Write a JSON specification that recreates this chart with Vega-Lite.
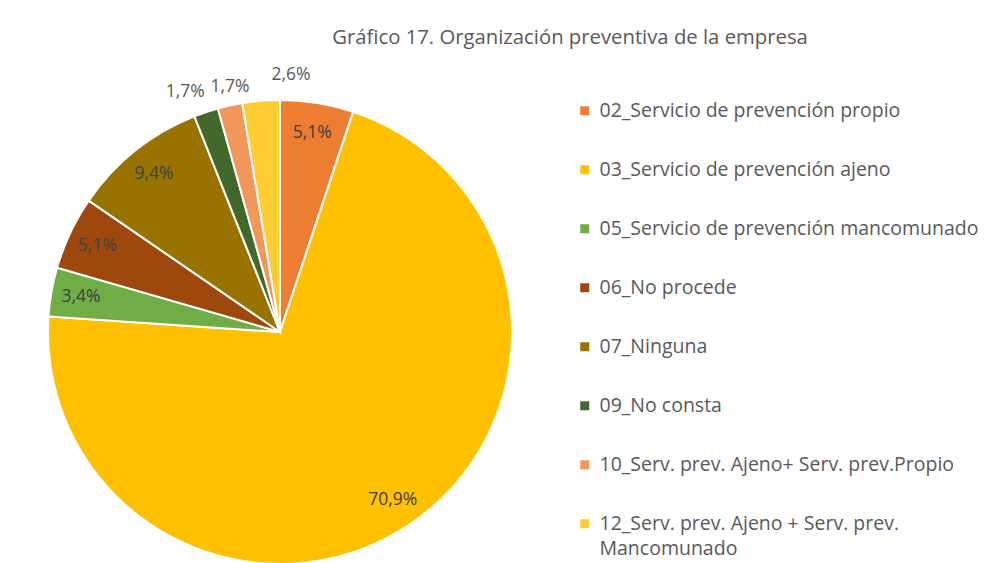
{
  "$schema": "https://vega.github.io/schema/vega-lite/v6.json",
  "width": 464,
  "height": 464,
  "autosize": "none",
  "padding": {"left": 48, "top": 100, "right": 475, "bottom": 0},
  "background": "white",
  "title": {
    "text": "Gráfico 17. Organización preventiva de la empresa",
    "font": "Open Sans",
    "fontSize": 20.3,
    "fontWeight": "normal",
    "color": "#595959",
    "anchor": "middle",
    "dx": 290,
    "offset": 18
  },
  "data": {
    "values": [
      {"cat": "02_Servicio de prevención propio", "v": 0.051},
      {"cat": "03_Servicio de prevención ajeno", "v": 0.709},
      {"cat": "05_Servicio de prevención mancomunado", "v": 0.034},
      {"cat": "06_No procede", "v": 0.051},
      {"cat": "07_Ninguna", "v": 0.094},
      {"cat": "09_No consta", "v": 0.017},
      {"cat": "10_Serv. prev. Ajeno+ Serv. prev.Propio", "v": 0.0171},
      {"cat": "12_Serv. prev. Ajeno + Serv. prev. Mancomunado", "v": 0.026}
    ]
  },
  "encoding": {
    "theta": {"field": "v", "type": "quantitative", "stack": true},
    "order": {"field": "cat", "type": "nominal", "sort": "ascending"}
  },
  "layer": [
    {
      "mark": {"type": "arc", "outerRadius": 232, "stroke": "white", "strokeWidth": 2},
      "encoding": {
        "color": {
          "field": "cat",
          "type": "nominal",
          "scale": {
            "domain": [
              "02_Servicio de prevención propio",
              "03_Servicio de prevención ajeno",
              "05_Servicio de prevención mancomunado",
              "06_No procede",
              "07_Ninguna",
              "09_No consta",
              "10_Serv. prev. Ajeno+ Serv. prev.Propio",
              "12_Serv. prev. Ajeno + Serv. prev. Mancomunado"
            ],
            "range": ["#ED7D31", "#FFC000", "#70AD47", "#9E480E", "#997300", "#43682B", "#F1975A", "#FFCD33"]
          },
          "legend": {
            "title": null,
            "orient": "none",
            "legendX": 527,
            "legendY": 1,
            "symbolType": "square",
            "symbolSize": 81,
            "symbolStrokeWidth": 0,
            "labelFont": "Open Sans",
            "labelFontSize": 19.5,
            "labelColor": "#595959",
            "labelOffset": 5,
            "labelLimit": 440,
            "rowPadding": 38,
            "labelExpr": "indexof(datum.label, '12_') == 0 ? ['12_Serv. prev. Ajeno + Serv. prev.', 'Mancomunado'] : datum.label"
          }
        }
      }
    },
    {
      "mark": {"type": "text", "radius": 202, "font": "Open Sans", "fontSize": 17.5, "color": "#404040"},
      "encoding": {
        "detail": {"field": "cat"},
        "text": {
          "condition": {"test": "datum.v >= 0.03", "field": "v", "type": "quantitative", "format": ".1%"},
          "value": ""
        }
      }
    },
    {
      "mark": {"type": "text", "radius": 253, "dx": -14, "font": "Open Sans", "fontSize": 17.5, "color": "#595959"},
      "encoding": {
        "detail": {"field": "cat"},
        "text": {
          "condition": {"test": "datum.cat == '09_No consta'", "field": "v", "type": "quantitative", "format": ".1%"},
          "value": ""
        }
      }
    },
    {
      "mark": {"type": "text", "radius": 251, "dx": 4, "font": "Open Sans", "fontSize": 17.5, "color": "#595959"},
      "encoding": {
        "detail": {"field": "cat"},
        "text": {
          "condition": {"test": "indexof(datum.cat, '10_') == 0", "field": "v", "type": "quantitative", "format": ".1%"},
          "value": ""
        }
      }
    },
    {
      "mark": {"type": "text", "radius": 258, "dx": 32, "font": "Open Sans", "fontSize": 17.5, "color": "#595959"},
      "encoding": {
        "detail": {"field": "cat"},
        "text": {
          "condition": {"test": "indexof(datum.cat, '12_') == 0", "field": "v", "type": "quantitative", "format": ".1%"},
          "value": ""
        }
      }
    }
  ],
  "config": {
    "view": {"stroke": null},
    "style": {"guide-label": {"lineHeight": 25}},
    "locale": {"number": {"decimal": ",", "thousands": ".", "grouping": [3], "currency": ["", " €"]}}
  }
}
